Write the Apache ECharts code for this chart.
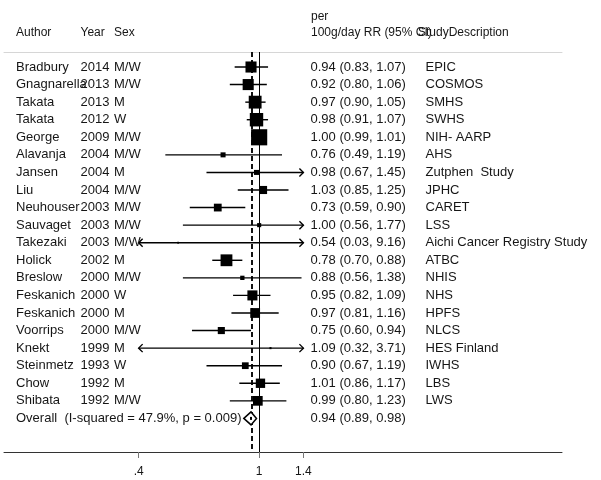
<!DOCTYPE html>
<html>
<head>
<meta charset="utf-8">
<script src="https://cdn.jsdelivr.net/npm/echarts@6/dist/echarts.min.js"></script>
<style>
  html, body { margin: 0; padding: 0; background: #fff; }
  #chart { width: 601px; height: 480px; }
</style>
</head>
<body>
<div id="chart"></div>
<script>
// Study rows, top to bottom
const authors = ['Bradbury', 'Gnagnarella', 'Takata', 'Takata', 'George', 'Alavanja', 'Jansen', 'Liu',
  'Neuhouser', 'Sauvaget', 'Takezaki', 'Holick', 'Breslow', 'Feskanich', 'Feskanich', 'Voorrips',
  'Knekt', 'Steinmetz', 'Chow', 'Shibata'];
const years = ['2014', '2013', '2013', '2012', '2009', '2004', '2004', '2004', '2003', '2003', '2003',
  '2002', '2000', '2000', '2000', '2000', '1999', '1993', '1992', '1992'];
const sexes = ['M/W', 'M/W', 'M', 'W', 'M/W', 'M/W', 'M', 'M/W', 'M/W', 'M/W', 'M/W', 'M', 'M/W', 'W',
  'M', 'M/W', 'M', 'W', 'M', 'M/W'];
const studies = ['EPIC', 'COSMOS', 'SMHS', 'SWHS', 'NIH- AARP', 'AHS', 'Zutphen  Study', 'JPHC', 'CARET',
  'LSS', 'Aichi Cancer Registry Study', 'ATBC', 'NHIS', 'NHS', 'HPFS', 'NLCS', 'HES Finland', 'IWHS',
  'LBS', 'LWS'];
const rr     = [0.94, 0.92, 0.97, 0.98, 1.00, 0.76, 0.98, 1.03, 0.73, 1.00, 0.54, 0.78, 0.88, 0.95, 0.97, 0.75, 1.09, 0.90, 1.01, 0.99];
const ciLow  = [0.83, 0.80, 0.90, 0.91, 0.99, 0.49, 0.67, 0.85, 0.59, 0.56, 0.03, 0.70, 0.56, 0.82, 0.81, 0.60, 0.32, 0.67, 0.86, 0.80];
const ciHigh = [1.07, 1.06, 1.05, 1.07, 1.01, 1.19, 1.45, 1.25, 0.90, 1.77, 9.16, 0.88, 1.38, 1.09, 1.16, 0.94, 3.71, 1.19, 1.17, 1.23];
// Study weights (%), shown as box area
const weights = [7.3, 7.3, 9.8, 10.7, 15.5, 1.5, 1.5, 3.9, 3.6, 1.0, 0.06, 8.3, 1.1, 6.0, 5.7, 3.0, 0.25, 2.7, 5.2, 5.6];

// Pooled estimate
const overallLabel = 'Overall  (I-squared = 47.9%, p = 0.009)';
const overallRR = 0.94;
const overallLow = 0.89;
const overallHigh = 0.98;

// Axis ticks and the plotted CI range (wider intervals end in arrows)
const tickValues = [0.4, 1, 1.4];
const tickLabels = ['.4', '1', '1.4'];
const ciClipMin = 0.4;
const ciClipMax = 1.4;

const FONT = "'Liberation Sans', Arial, Helvetica, sans-serif";
const TEXT_COLOR = '#161616';
const ROW_FONT = 13;
const HEAD_FONT = 12;
const COL_X = { author: 16, year: 80.5, sex: 114, est: 310.5, desc: 425.5 };
const BOX_SCALE = 4.1;

const fmt = v => v.toFixed(2);
const ln = Math.log;

const studyData = authors.map((a, i) => [i, ln(rr[i]), ln(ciLow[i]), ln(ciHigh[i]), weights[i]]);
const overallIndex = authors.length;

function rowText(x, y, text) {
  return {
    type: 'text', x: x, y: y,
    style: { text: text, fill: TEXT_COLOR, font: ROW_FONT + 'px ' + FONT, verticalAlign: 'middle', align: 'left' },
    silent: true
  };
}

function renderStudy(params, api) {
  const i = api.value(0);
  const est = api.value(1), lo = api.value(2), hi = api.value(3), w = api.value(4);
  const y = api.coord([0, i])[1];
  const xe = api.coord([est, i])[0];
  const loC = Math.max(lo, ln(ciClipMin));
  const hiC = Math.min(hi, ln(ciClipMax));
  const x1 = api.coord([loC, i])[0];
  const x2 = api.coord([hiC, i])[0];
  const side = Math.max(1.8, BOX_SCALE * Math.sqrt(w));
  const lineStyle = { stroke: '#000', lineWidth: 1.4, fill: null };
  const children = [
    { type: 'line', shape: { x1: x1, y1: y, x2: x2, y2: y }, style: lineStyle },
    { type: 'rect', shape: { x: xe - side / 2, y: y - side / 2, width: side, height: side }, style: { fill: '#000' } }
  ];
  if (lo < ln(ciClipMin)) {
    children.push({ type: 'polyline', shape: { points: [[x1 + 4, y - 4], [x1, y], [x1 + 4, y + 4]] }, style: lineStyle });
  }
  if (hi > ln(ciClipMax)) {
    children.push({ type: 'polyline', shape: { points: [[x2 - 4, y - 4], [x2, y], [x2 - 4, y + 4]] }, style: lineStyle });
  }
  children.push(rowText(COL_X.author, y, authors[i]));
  children.push(rowText(COL_X.year, y, years[i]));
  children.push(rowText(COL_X.sex, y, sexes[i]));
  children.push(rowText(COL_X.est, y, fmt(rr[i]) + ' (' + fmt(ciLow[i]) + ', ' + fmt(ciHigh[i]) + ')'));
  children.push(rowText(COL_X.desc, y, studies[i]));
  return { type: 'group', children: children };
}

function renderOverall(params, api) {
  const i = api.value(0);
  const y = api.coord([0, i])[1];
  const xe = api.coord([api.value(1), i])[0];
  const xl = api.coord([api.value(2), i])[0];
  const xh = api.coord([api.value(3), i])[0];
  const h = 6.5;
  return {
    type: 'group',
    children: [
      { type: 'polygon', shape: { points: [[xl, y], [xe, y - h], [xh, y], [xe, y + h]] },
        style: { fill: '#fff', stroke: '#000', lineWidth: 1.5 } },
      { type: 'rect', shape: { x: xe - 1, y: y - 1.5, width: 2, height: 3 }, style: { fill: '#000' } },
      rowText(COL_X.author, y, overallLabel),
      rowText(COL_X.est, y, fmt(overallRR) + ' (' + fmt(overallLow) + ', ' + fmt(overallHigh) + ')')
    ]
  };
}

function headText(x, y, text) {
  return {
    type: 'text', x: x, y: y,
    style: { text: text, fill: TEXT_COLOR, font: HEAD_FONT + 'px ' + FONT, verticalAlign: 'middle', align: 'left' }
  };
}

const xMin = ln(0.1437);
const xMax = ln(10);

const option = {
  backgroundColor: '#fff',
  animation: false,
  grid: { left: 4, right: 39, top: 52, bottom: 28 },
  xAxis: [
    {
      type: 'value', min: xMin, max: xMax, position: 'bottom',
      splitLine: { show: false },
      axisLine: { show: true, onZero: false, lineStyle: { color: '#333', width: 1 } },
      axisTick: { show: true, length: 6, customValues: tickValues.map(ln), lineStyle: { color: '#777', width: 1 } },
      axisLabel: {
        show: true, customValues: tickValues.map(ln), margin: 14,
        color: TEXT_COLOR, fontSize: 12, fontFamily: FONT,
        formatter: v => {
          const k = tickValues.findIndex(t => Math.abs(ln(t) - v) < 1e-6);
          return k >= 0 ? tickLabels[k] : '';
        }
      }
    },
    {
      type: 'value', min: xMin, max: xMax, position: 'top',
      splitLine: { show: false },
      axisLine: { show: true, onZero: false, lineStyle: { color: '#d6d6d6', width: 1 } },
      axisTick: { show: false }, axisLabel: { show: false }
    }
  ],
  yAxis: {
    type: 'value', inverse: true, min: -0.854, max: 21.912, show: false,
    axisLine: { onZero: false },
    splitLine: { show: false }
  },
  series: [
    {
      type: 'custom',
      name: 'studies',
      renderItem: renderStudy,
      encode: { x: [1, 2, 3], y: 0 },
      data: studyData,
      z: 3,
      markLine: {
        silent: true, symbol: 'none', label: { show: false },
        data: [
          { xAxis: ln(1), lineStyle: { color: '#000', width: 1, type: 'solid' } },
          { xAxis: ln(overallRR), lineStyle: { color: '#111', width: 2, type: [5, 3] } }
        ],
        z: 2
      }
    },
    {
      type: 'custom',
      name: 'overall',
      renderItem: renderOverall,
      encode: { x: [1, 2, 3], y: 0 },
      data: [[overallIndex, ln(overallRR), ln(overallLow), ln(overallHigh)]],
      z: 4
    }
  ],
  graphic: [
    headText(16, 33, 'Author'),
    headText(80.5, 33, 'Year'),
    headText(114, 33, 'Sex'),
    headText(311, 16.5, 'per'),
    headText(311, 33, '100g/day RR (95% CI)'),
    headText(418, 33, 'StudyDescription')
  ]
};

const chart = echarts.init(document.getElementById('chart'), null, { renderer: 'canvas' });
chart.setOption(option);
</script>
</body>
</html>
